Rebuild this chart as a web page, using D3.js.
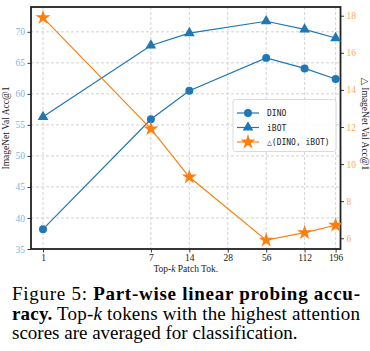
<!DOCTYPE html>
<html><head><meta charset="utf-8">
<script src="https://cdn.jsdelivr.net/npm/d3@7"></script>
<style>body{margin:0;background:#fff}svg{display:block}</style>
</head><body>
<script>
const patchTok = [1, 7, 14, 56, 112, 196];
const xTicks = [1, 7, 14, 28, 56, 112, 196];
const dino = [38.2, 55.9, 60.5, 65.8, 64.1, 62.4];
const ibot = [56.3, 67.8, 69.8, 71.7, 70.4, 69.0];
const delta = [17.9, 11.9, 9.3, 5.9, 6.3, 6.7];
const leftTicks = [35, 40, 45, 50, 55, 60, 65, 70];
const rightTicks = [6, 8, 10, 12, 14, 16, 18];

const W = 370, H = 351;
const L = 31, R = 340.5, T = 7, B = 249;
const blue = "#1f77b4", orange = "#ff7f0e";
const svg = d3.select("body").append("svg").attr("width", W).attr("height", H);

const x = d3.scaleLog().base(2).domain([0.805, 214]).range([L, R]);
const yL = d3.scaleLinear().domain([35, 74.0]).range([B, T]);
const yR = d3.scaleLinear().domain([5.42, 18.47]).range([B, T]);

const serif = "'Liberation Serif', 'DejaVu Serif', serif";
const mono = "'DejaVu Sans Mono', 'Liberation Mono', monospace";

// grid
const g = svg.append("g");
g.selectAll(".vg").data(xTicks).join("line")
  .attr("x1", d => x(d)).attr("x2", d => x(d)).attr("y1", T).attr("y2", B)
  .attr("stroke", "#c8c8c8").attr("stroke-width", 0.8).attr("stroke-dasharray", "3,2");
g.selectAll(".hg").data(leftTicks.slice(1)).join("line")
  .attr("x1", L).attr("x2", R).attr("y1", d => yL(d)).attr("y2", d => yL(d))
  .attr("stroke", "#c8c8c8").attr("stroke-width", 0.8).attr("stroke-dasharray", "3,2");

// axes
const axB = svg.append("g").attr("transform", `translate(0,${B})`)
  .call(d3.axisBottom(x).tickValues(xTicks).tickFormat(d3.format("d")).tickSize(3.5).tickPadding(2));
const axL = svg.append("g").attr("transform", `translate(${L},0)`)
  .call(d3.axisLeft(yL).tickValues(leftTicks).tickSize(3.5).tickPadding(2.5));
const axR = svg.append("g").attr("transform", `translate(${R},0)`)
  .call(d3.axisRight(yR).tickValues(rightTicks).tickSize(3.5).tickPadding(2.5));
[axB, axL, axR].forEach(a => {
  a.select(".domain").remove();
  a.selectAll(".tick line").attr("stroke", "#222").attr("stroke-width", 0.9);
  a.selectAll(".tick text").attr("font-family", serif).attr("font-size", 9.5);
});
axB.selectAll(".tick text").attr("fill", "#222");
axL.selectAll(".tick text").attr("fill", "#7db8e6");
axR.selectAll(".tick text").attr("fill", "#ffaa5c");

// frame
svg.append("rect").attr("x", L).attr("y", T).attr("width", R - L).attr("height", B - T)
  .attr("fill", "none").attr("stroke", "#222").attr("stroke-width", 1.8);

// axis titles
const xt = svg.append("text").attr("x", (L + R) / 2).attr("y", 272).attr("text-anchor", "middle")
  .attr("font-family", serif).attr("font-size", 9.5).attr("fill", "#222");
xt.append("tspan").text("Top-");
xt.append("tspan").attr("font-style", "italic").text("k");
xt.append("tspan").text(" Patch Tok.");
svg.append("text").attr("transform", `translate(9,${(T + B) / 2}) rotate(-90)`)
  .attr("text-anchor", "middle").attr("font-family", serif).attr("font-size", 9.5).attr("fill", "#222")
  .text("ImageNet Val Acc@1");
svg.append("text").attr("transform", `translate(362,${(T + B) / 2 - 4}) rotate(90)`)
  .attr("text-anchor", "middle").attr("font-family", serif).attr("font-size", 9.5).attr("fill", "#222")
  .text("△ ImageNet Val Acc@1");

// series
const data = (vals) => patchTok.map((k, i) => [k, vals[i]]);
const lineL = d3.line().x(d => x(d[0])).y(d => yL(d[1]));
const lineR = d3.line().x(d => x(d[0])).y(d => yR(d[1]));
const circ = d3.symbol().type(d3.symbolCircle).size(50);
const tri = d3.symbol().type(d3.symbolTriangle).size(50);
const star = d3.symbol().type(d3.symbolStar).size(70);

function series(vals, line, ys, sym, color) {
  svg.append("path").attr("d", line(data(vals))).attr("fill", "none").attr("stroke", color).attr("stroke-width", 1.2);
  svg.selectAll(null).data(data(vals)).join("path")
    .attr("transform", d => `translate(${x(d[0])},${ys(d[1])})`)
    .attr("d", sym).attr("fill", color);
}
series(dino, lineL, yL, circ, blue);
series(ibot, lineL, yL, tri, blue);
series(delta, lineR, yR, star, orange);

// legend
const lg = svg.append("g");
lg.append("rect").attr("x", 233).attr("y", 99.5).attr("width", 103).attr("height", 52).attr("rx", 2.5)
  .attr("fill", "rgba(255,255,255,0.85)").attr("stroke", "#d0d0d0").attr("stroke-width", 0.8);
const items = [["DINO", circ, blue], ["iBOT", tri, blue], ["△(DINO, iBOT)", star, orange]];
items.forEach((it, i) => {
  const yy = 113 + i * 14.5;
  lg.append("line").attr("x1", 237).attr("x2", 259).attr("y1", yy).attr("y2", yy).attr("stroke", it[2]).attr("stroke-width", 1.2);
  lg.append("path").attr("transform", `translate(248,${yy})`).attr("d", it[1]).attr("fill", it[2]);
  lg.append("text").attr("x", 267).attr("y", yy + 3).attr("font-family", mono).attr("font-size", 8)
    .attr("fill", "#222").text(it[0]);
});

// caption
const cap = svg.append("g").attr("font-family", serif).attr("font-size", 19).attr("fill", "#000");
const l1 = cap.append("text").attr("x", 12).attr("y", 300).attr("textLength", 348).attr("lengthAdjust", "spacing");
l1.append("tspan").text("Figure 5:  ");
l1.append("tspan").attr("font-weight", "bold").text("Part-wise linear probing accu-");
const l2 = cap.append("text").attr("x", 12).attr("y", 319.5).attr("textLength", 348).attr("lengthAdjust", "spacing");
l2.append("tspan").attr("font-weight", "bold").text("racy.");
l2.append("tspan").text(" Top-");
l2.append("tspan").attr("font-style", "italic").text("k");
l2.append("tspan").text(" tokens with the highest attention");
cap.append("text").attr("x", 12).attr("y", 339).text("scores are averaged for classification.");
</script>
</body></html>
